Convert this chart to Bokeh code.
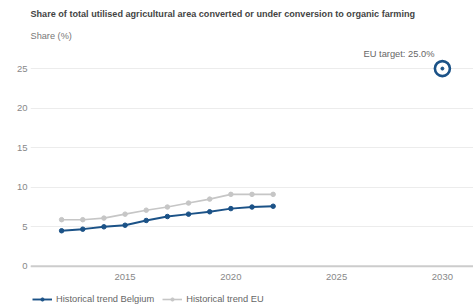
from bokeh.plotting import figure
from bokeh.models import Title, Label, Legend, LegendItem, FixedTicker, Range1d, Span
from bokeh.core.properties import value
from bokeh.embed import file_html
from bokeh.resources import INLINE

years = [2012, 2013, 2014, 2015, 2016, 2017, 2018, 2019, 2020, 2021, 2022]
belgium = [4.5, 4.7, 5.0, 5.2, 5.8, 6.3, 6.6, 6.9, 7.3, 7.5, 7.6]
eu = [5.9, 5.9, 6.1, 6.6, 7.1, 7.5, 8.0, 8.5, 9.1, 9.1, 9.1]
target_year = [2030]
target_value = [25.0]
x_ticks = [2015, 2020, 2025, 2030]
x_tick_labels = ["2015", "2020", "2025", "2030"]
y_ticks = [0, 5, 10, 15, 20, 25]

BLUE = "#1b5287"
GREY = "#c6c6c6"
FONT = "Liberation Sans"

p = figure(width=473, height=307, output_backend="svg", toolbar_location=None,
           x_range=Range1d(2010.53, 2031.47), y_range=Range1d(-5.2, 28.17),
           min_border_left=30, min_border_right=0, min_border_top=3, min_border_bottom=0)
p.outline_line_color = None
p.background_fill_color = "white"

p.title.text = "Share of total utilised agricultural area converted or under conversion to organic farming"
p.title.text_font = FONT
p.title.text_font_size = "9.1px"
p.title.text_font_style = "bold"
p.title.text_color = "#444444"
p.title.standoff = 13

sub = Title(text="Share (%)", text_font=FONT, text_font_size="9.2px", text_font_style="normal",
            text_color="#777777", standoff=6)
p.add_layout(sub, "above")

# y axis
p.yaxis.ticker = FixedTicker(ticks=y_ticks)
p.yaxis.major_label_text_font = FONT
p.yaxis.major_label_text_font_size = "9.5px"
p.yaxis.major_label_text_color = "#888888"
p.yaxis.major_tick_line_color = None
p.yaxis.minor_tick_line_color = None
p.yaxis.major_tick_out = 0
p.yaxis.major_tick_in = 0
p.yaxis.major_label_standoff = 3
p.yaxis.axis_line_color = None
p.ygrid.ticker = FixedTicker(ticks=y_ticks)
p.ygrid.grid_line_color = "#ececec"
p.xgrid.grid_line_color = None

# x axis drawn at y = 0 inside the frame so the legend can sit below it
p.xaxis.visible = False
p.add_layout(Span(location=0, dimension="width", line_color="#cccccc", line_width=2))
p.text(x=x_ticks, y=[0] * len(x_ticks), text=x_tick_labels, y_offset=11,
       text_align="center", text_baseline="middle",
       text_font=value(FONT), text_font_size="9.5px", text_color="#888888")

bl = p.line(years, belgium, line_color=BLUE, line_width=1.9)
bs = p.scatter(years, belgium, size=4.5, fill_color=BLUE, line_color=BLUE)
el = p.line(years, eu, line_color=GREY, line_width=1.6)
es = p.scatter(years, eu, size=4.5, fill_color=GREY, line_color=GREY)

p.scatter(target_year, target_value, size=15, fill_color="white", line_color=BLUE, line_width=2.6)
p.scatter(target_year, target_value, size=3, fill_color=BLUE, line_color=BLUE)
p.add_layout(Label(x=target_year[0], y=target_value[0], text="EU target: %.1f%%" % target_value[0],
                   x_offset=-8, y_offset=10, text_align="right", text_baseline="bottom",
                   text_font=FONT, text_font_size="9.3px", text_color="#666666"))

legend = Legend(items=[LegendItem(label="Historical trend Belgium", renderers=[bl, bs]),
                       LegendItem(label="Historical trend EU", renderers=[el, es])],
                orientation="horizontal", location=(2, 3),
                label_text_font=FONT, label_text_font_size="9.3px", label_text_color="#666666",
                glyph_width=20, glyph_height=8, label_standoff=4, spacing=8,
                padding=2, margin=0, border_line_color=None, background_fill_alpha=0)
p.add_layout(legend)

open("out.html", "w").write(file_html(p, INLINE))
